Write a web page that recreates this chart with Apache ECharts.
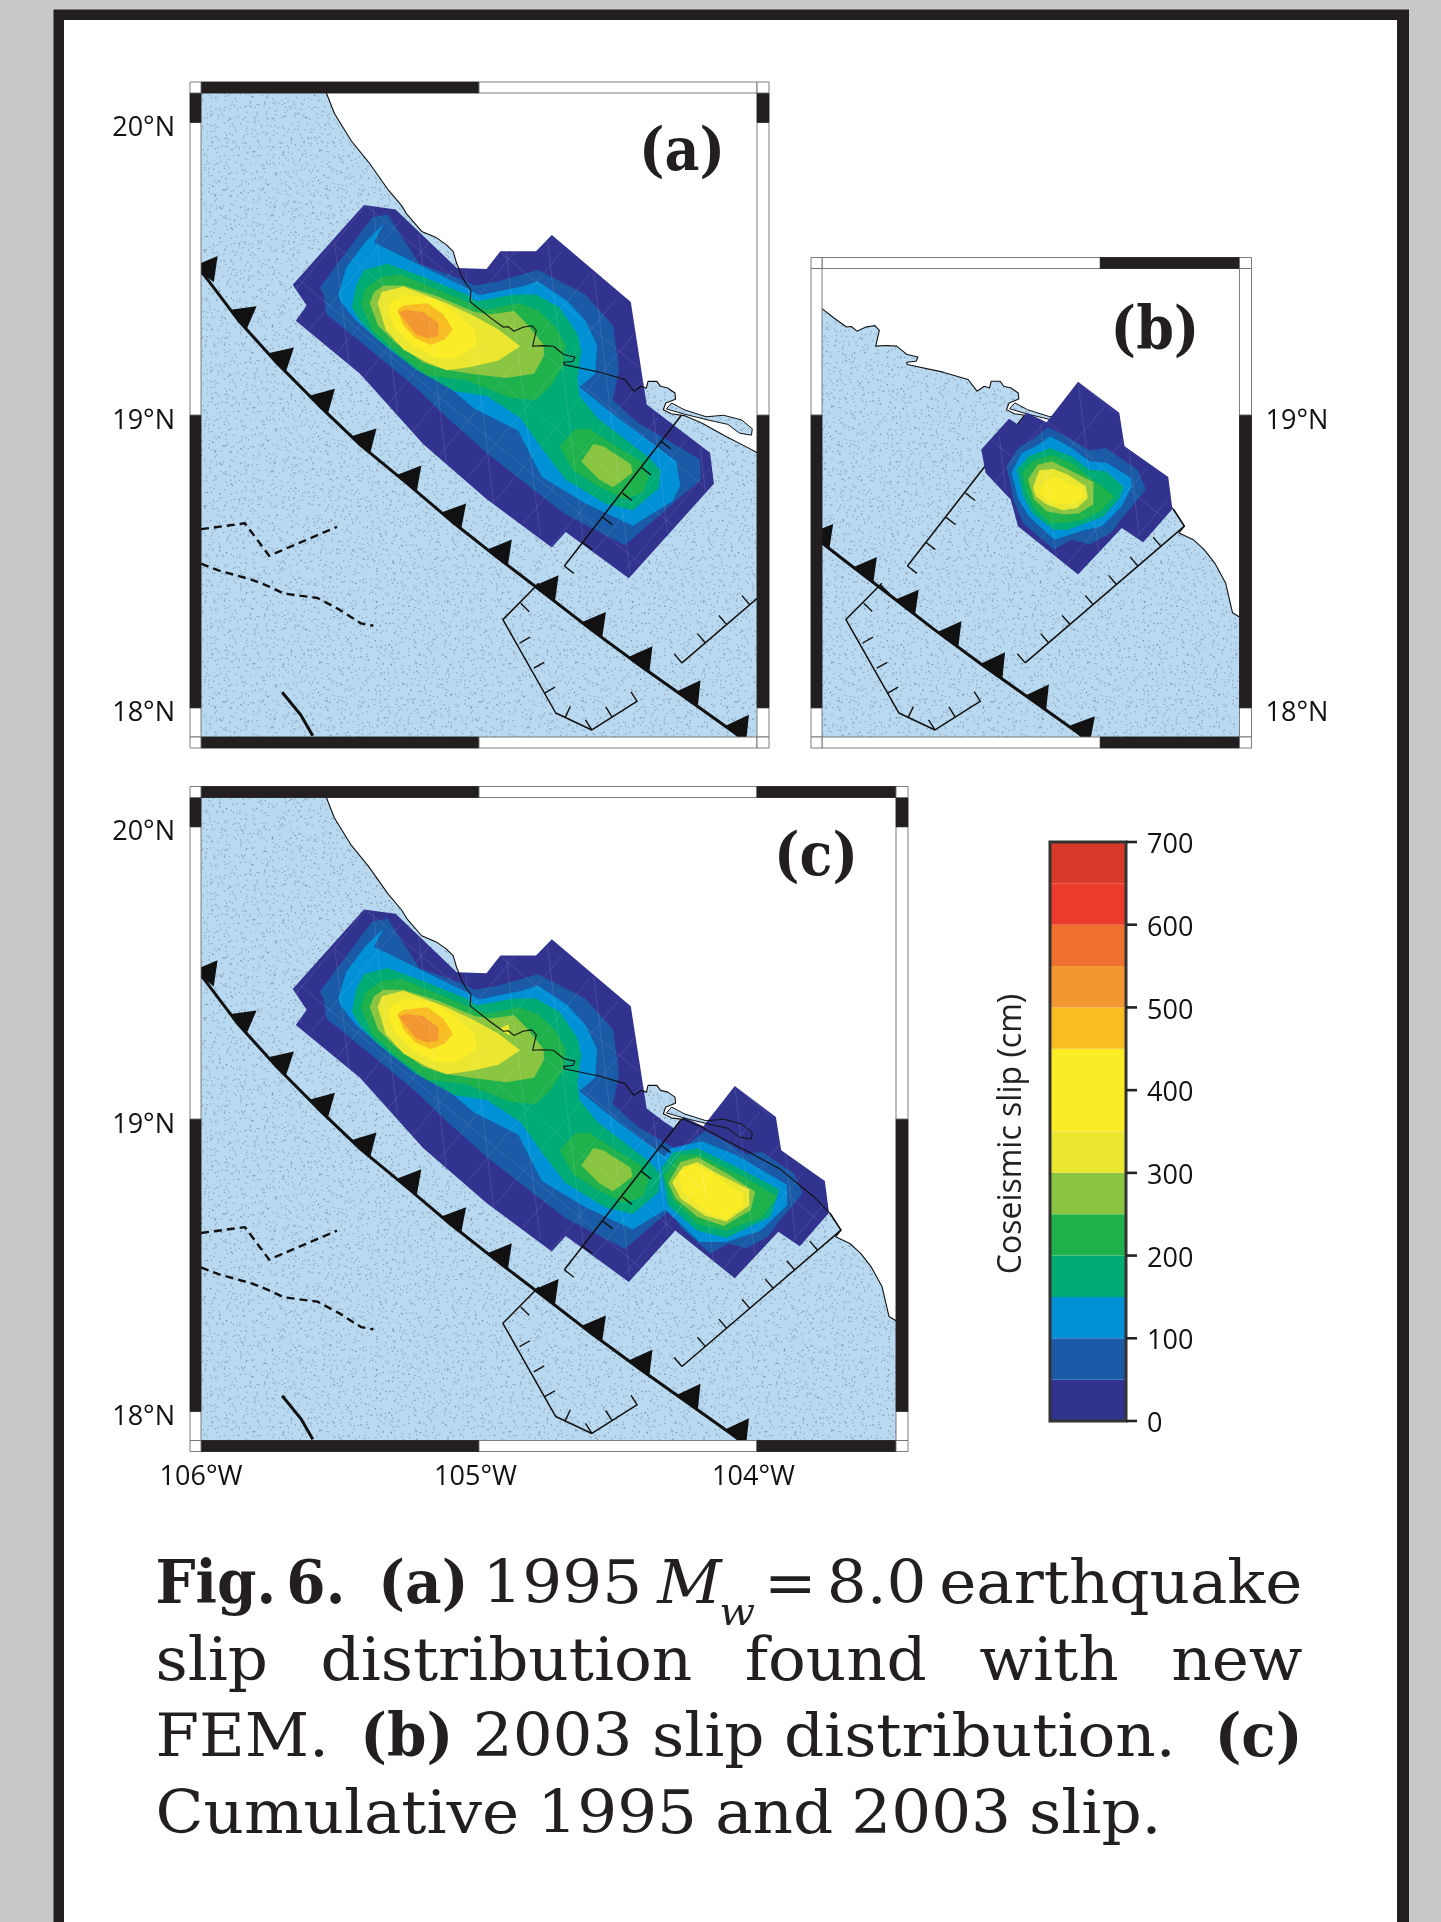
<!DOCTYPE html>
<html><head><meta charset="utf-8">
<style>html,body{margin:0;padding:0;background:#c7c8ca}#c{width:1441px;height:1922px}</style>
<script src="https://cdn.jsdelivr.net/npm/echarts@6/dist/echarts.min.js"></script>
</head><body><div id="c"></div>
<script>
// ---------- DATA (all in degrees longitude / latitude, or cm) ----------
const bandEdges=[0,50,100,150,200,250,300,350,450,500,550,600,650,700];
const bandColors=['#32338f','#1a5aa6','#0090d6','#00ab75','#1fb14c','#89c541','#ebe62f','#faec25','#f7bd22','#f39730','#ef6f2f','#ec3a2b','#d8392a'];
const colorbarTicks=[0,100,200,300,400,500,600,700];
const latTicksAC=[18,19,20], latTicksB=[18,19], lonTicksC=[-106,-105,-104];

const coast=[[-105.549,20.10],[-105.52,20.03],[-105.459,19.936],[-105.398,19.865],[-105.328,19.771],[-105.279,19.716],[-105.259,19.685],[-105.206,19.627],[-105.154,19.606],[-105.119,19.583],[-105.093,19.559],[-105.081,19.52],[-105.071,19.496],[-105.058,19.465],[-105.029,19.426],[-105.032,19.387],[-104.957,19.331],[-104.912,19.300],[-104.895,19.302],[-104.874,19.286],[-104.842,19.30],[-104.81,19.305],[-104.794,19.289],[-104.807,19.235],[-104.771,19.237],[-104.732,19.235],[-104.694,19.206],[-104.655,19.198],[-104.662,19.183],[-104.696,19.18],[-104.694,19.172],[-104.565,19.146],[-104.475,19.121],[-104.443,19.081],[-104.417,19.098],[-104.398,19.092],[-104.392,19.115],[-104.36,19.115],[-104.347,19.098],[-104.321,19.092],[-104.295,19.075],[-104.293,19.054],[-104.328,19.041],[-104.337,19.018],[-104.309,19.004],[-104.262,18.998],[-104.197,18.972],[-104.12,18.931],[-104.04,18.892],[-103.919,18.83],[-103.797,18.735],[-103.737,18.677],[-103.698,18.62],[-103.717,18.597],[-103.666,18.574],[-103.627,18.54],[-103.589,18.494],[-103.55,18.426],[-103.525,18.324],[-103.5,18.31]];
const seaCorners=[[-103.5,17.9],[-106,17.9],[-106,20.1]];
const lagoon=[[-104.307,19.041],[-104.262,19.018],[-104.183,18.994],[-104.12,18.999],[-104.055,18.983],[-104.017,18.953],[-104.02,18.931],[-104.063,18.938],[-104.105,18.968],[-104.176,18.983],[-104.262,19.003],[-104.326,19.021]];
const trench=[[-106.01,19.495],[-105.991,19.481],[-105.866,19.324],[-105.727,19.178],[-105.577,19.034],[-105.426,18.897],[-105.26,18.767],[-105.1,18.638],[-104.933,18.513],[-104.764,18.39],[-104.594,18.265],[-104.425,18.147],[-104.251,18.03],[-104.077,17.912],[-104.0,17.85]];
const teethAC=[[-105.991,19.481],[-105.866,19.324],[-105.727,19.178],[-105.577,19.034],[-105.426,18.897],[-105.26,18.767],[-105.1,18.638],[-104.933,18.513],[-104.764,18.39],[-104.594,18.265],[-104.425,18.147],[-104.251,18.03],[-104.077,17.912]];
const teethB=[[-105.011,18.566],[-104.853,18.452],[-104.703,18.341],[-104.548,18.232],[-104.39,18.125],[-104.233,18.015],[-104.073,17.911]];
const fault1=[[-104.693,18.484],[-104.272,18.999]];
const fault1Ticks=[[-104.693,18.484],[-104.627,18.565],[-104.554,18.65],[-104.484,18.733],[-104.415,18.82],[-104.345,18.91]];
const fault2=[[-104.27,18.153],[-103.698,18.62],[-103.737,18.677]];
const fault2Ticks=[[-104.27,18.153],[-104.186,18.222],[-104.109,18.284],[-104.026,18.352],[-103.942,18.421],[-103.865,18.484],[-103.782,18.551]];
const fault3=[[-104.432,18.022],[-104.594,17.924],[-104.724,17.982],[-104.914,18.301],[-104.785,18.425]];
const fault3Ticks=[[-104.43,18.02],[-104.521,17.968],[-104.594,17.924],[-104.69,17.967],[-104.764,18.05],[-104.803,18.135],[-104.854,18.221],[-104.85,18.357],[-104.79,18.42]];
const dashed1=[[-106,18.61],[-105.842,18.63],[-105.755,18.519],[-105.511,18.618]];
const dashed2=[[-106,18.492],[-105.937,18.469],[-105.816,18.437],[-105.755,18.414],[-105.702,18.39],[-105.581,18.375],[-105.502,18.335],[-105.424,18.288],[-105.38,18.28]];
const solidFault=[[-105.708,18.053],[-105.641,17.975],[-105.598,17.904]];

const slip1995_0=[[-105.67,19.445],[-105.62,19.374],[-105.659,19.322],[-105.428,19.141],[-105.201,18.901],[-104.973,18.713],[-104.738,18.547],[-104.688,18.6],[-104.461,18.442],[-104.155,18.765],[-104.169,18.871],[-104.397,19.036],[-104.454,19.386],[-104.738,19.615],[-104.795,19.559],[-104.923,19.559],[-104.973,19.499],[-105.08,19.502],[-105.3,19.702],[-105.414,19.717]];
const slip1995_1=[[-105.573,19.435],[-105.385,19.675],[-105.329,19.686],[-105.215,19.517],[-105.065,19.465],[-105.016,19.442],[-104.93,19.457],[-104.788,19.495],[-104.617,19.412],[-104.518,19.307],[-104.496,19.156],[-104.518,19.051],[-104.432,18.976],[-104.205,18.848],[-104.202,18.78],[-104.475,18.555],[-104.688,18.66],[-104.802,18.743],[-104.973,18.871],[-105.115,18.991],[-105.229,19.096],[-105.442,19.262],[-105.549,19.344],[-105.559,19.412]];
const slip1995_2=[[-105.506,19.412],[-105.478,19.502],[-105.414,19.585],[-105.343,19.653],[-105.378,19.589],[-105.286,19.547],[-105.208,19.51],[-105.03,19.427],[-105.001,19.409],[-104.845,19.439],[-104.788,19.457],[-104.681,19.389],[-104.617,19.322],[-104.575,19.239],[-104.582,19.141],[-104.639,19.096],[-104.532,19.014],[-104.29,18.841],[-104.276,18.758],[-104.304,18.705],[-104.447,18.622],[-104.617,18.698],[-104.774,18.788],[-104.859,18.946],[-105.016,19.021],[-105.129,19.111],[-105.314,19.217],[-105.442,19.322],[-105.499,19.389]];
const slip1995_3=[[-105.457,19.367],[-105.442,19.442],[-105.414,19.495],[-105.329,19.517],[-105.201,19.472],[-105.044,19.412],[-105.009,19.389],[-104.873,19.412],[-104.795,19.412],[-104.71,19.367],[-104.646,19.277],[-104.632,19.217],[-104.646,19.126],[-104.639,19.066],[-104.575,18.991],[-104.39,18.856],[-104.347,18.81],[-104.354,18.75],[-104.447,18.675],[-104.546,18.698],[-104.688,18.78],[-104.774,18.886],[-104.852,18.991],[-104.973,19.066],[-105.087,19.081],[-105.229,19.156],[-105.371,19.262],[-105.428,19.322]];
const slip1995_4a=[[-105.425,19.382],[-105.407,19.435],[-105.35,19.472],[-105.279,19.48],[-105.186,19.442],[-105.03,19.382],[-104.973,19.359],[-104.859,19.382],[-104.788,19.359],[-104.724,19.299],[-104.688,19.239],[-104.696,19.171],[-104.738,19.104],[-104.795,19.051],[-104.888,19.059],[-105.044,19.119],[-105.186,19.134],[-105.3,19.217],[-105.385,19.292]];
const slip1995_4b=[[-104.71,18.893],[-104.653,18.953],[-104.603,18.953],[-104.518,18.901],[-104.418,18.841],[-104.39,18.788],[-104.411,18.735],[-104.475,18.713],[-104.575,18.758],[-104.66,18.81]];
const slip1995_5a=[[-105.393,19.382],[-105.378,19.42],[-105.343,19.442],[-105.272,19.442],[-105.144,19.404],[-105.016,19.352],[-104.959,19.344],[-104.873,19.355],[-104.831,19.314],[-104.767,19.239],[-104.767,19.201],[-104.802,19.141],[-104.902,19.126],[-105.03,19.141],[-105.129,19.156],[-105.201,19.179],[-105.3,19.247],[-105.364,19.307]];
const slip1995_5b=[[-104.632,18.841],[-104.589,18.901],[-104.553,18.893],[-104.454,18.833],[-104.447,18.803],[-104.518,18.753],[-104.568,18.78]];
const slip1995_6=[[-105.364,19.382],[-105.35,19.42],[-105.272,19.439],[-105.115,19.382],[-105.016,19.337],[-104.93,19.292],[-104.852,19.235],[-104.93,19.186],[-105.03,19.164],[-105.115,19.153],[-105.186,19.179],[-105.272,19.224],[-105.336,19.292]];
const slip1995_7=[[-105.329,19.352],[-105.314,19.389],[-105.272,19.412],[-105.158,19.397],[-105.087,19.352],[-105.016,19.292],[-105.009,19.239],[-105.087,19.194],[-105.158,19.194],[-105.243,19.239],[-105.3,19.292]];
const slip1995_8=[[-105.293,19.359],[-105.272,19.374],[-105.186,19.382],[-105.129,19.344],[-105.094,19.292],[-105.122,19.259],[-105.172,19.239],[-105.229,19.262],[-105.272,19.307]];
const slip1995_9=[[-105.289,19.352],[-105.257,19.359],[-105.201,19.352],[-105.146,19.314],[-105.146,19.269],[-105.186,19.262],[-105.229,19.277],[-105.265,19.322]];

const slip2003_0=[[-104.428,18.882],[-104.328,18.987],[-104.296,18.967],[-104.264,19.007],[-104.193,18.975],[-104.08,19.113],[-103.932,19.007],[-103.913,18.893],[-103.756,18.788],[-103.741,18.679],[-103.846,18.565],[-103.923,18.614],[-104.08,18.455],[-104.296,18.62],[-104.322,18.711],[-104.412,18.802]];
const slip2003_1=[[-104.337,18.825],[-104.296,18.887],[-104.245,18.916],[-104.187,18.959],[-104.103,18.916],[-104.039,18.879],[-103.981,18.887],[-103.866,18.813],[-103.836,18.745],[-103.917,18.654],[-103.962,18.597],[-104.039,18.557],[-104.103,18.574],[-104.168,18.54],[-104.277,18.631],[-104.309,18.699]];
const slip2003_2=[[-104.319,18.802],[-104.283,18.87],[-104.232,18.893],[-104.18,18.927],[-104.103,18.887],[-104.039,18.842],[-103.975,18.836],[-103.891,18.785],[-103.887,18.756],[-103.923,18.688],[-103.994,18.62],[-104.052,18.608],[-104.11,18.591],[-104.165,18.574],[-104.257,18.654],[-104.296,18.716]];
const slip2003_3=[[-104.3,18.813],[-104.257,18.859],[-104.18,18.887],[-104.103,18.859],[-104.039,18.813],[-103.981,18.808],[-103.917,18.756],[-103.93,18.716],[-103.988,18.654],[-104.052,18.631],[-104.116,18.608],[-104.168,18.608],[-104.245,18.665],[-104.277,18.722]];
const slip2003_4=[[-104.281,18.802],[-104.245,18.842],[-104.174,18.864],[-104.103,18.836],[-104.02,18.773],[-103.949,18.722],[-104.0,18.671],[-104.065,18.642],[-104.123,18.631],[-104.18,18.631],[-104.238,18.682],[-104.264,18.734]];
const slip2003_5=[[-104.26,18.779],[-104.225,18.83],[-104.174,18.842],[-104.103,18.808],[-104.024,18.77],[-104.026,18.694],[-104.078,18.663],[-104.129,18.66],[-104.193,18.671],[-104.238,18.711]];
const slip2003_6=[[-104.242,18.751],[-104.219,18.811],[-104.168,18.815],[-104.116,18.796],[-104.052,18.756],[-104.045,18.716],[-104.084,18.682],[-104.135,18.674],[-104.193,18.694],[-104.232,18.722]];
const slip2003_7=[[-104.221,18.739],[-104.2,18.773],[-104.165,18.788],[-104.123,18.773],[-104.062,18.745],[-104.065,18.716],[-104.103,18.694],[-104.155,18.694],[-104.193,18.711]];

// cumulative lobe (panel c) contours
const slipCum_2=[[-104.354,18.845],[-104.31,18.9],[-104.197,18.924],[-104.075,18.877],[-103.892,18.775],[-103.892,18.704],[-103.988,18.618],[-104.11,18.579],[-104.206,18.579],[-104.328,18.688]];
const slipCum_3=[[-104.345,18.83],[-104.301,18.885],[-104.214,18.9],[-104.075,18.837],[-103.919,18.759],[-103.953,18.665],[-104.11,18.594],[-104.214,18.618],[-104.319,18.704]];
const slipCum_4=[[-104.336,18.806],[-104.275,18.877],[-104.214,18.88],[-104.04,18.798],[-103.927,18.735],[-103.98,18.665],[-104.11,18.618],[-104.214,18.641],[-104.301,18.72]];
const slipCum_5=[[-104.319,18.783],[-104.275,18.853],[-104.214,18.869],[-104.11,18.814],[-104.006,18.751],[-104.023,18.688],[-104.119,18.634],[-104.214,18.665],[-104.293,18.728]];
const slipCum_6=[[-104.305,18.783],[-104.267,18.837],[-104.214,18.853],[-104.145,18.814],[-104.028,18.759],[-104.028,18.704],[-104.11,18.649],[-104.188,18.67],[-104.275,18.728]];
const slipCum_7=[[-104.284,18.814],[-104.232,18.845],[-104.162,18.814],[-104.049,18.743],[-104.049,18.704],[-104.11,18.657],[-104.18,18.681],[-104.267,18.751]];
const slipCumSpot=[[-104.928,19.308],[-104.893,19.324],[-104.89,19.285]];

const contours1995=[[0,slip1995_0],[1,slip1995_1],[2,slip1995_2],[3,slip1995_3],[4,slip1995_4a],[4,slip1995_4b],[5,slip1995_5a],[5,slip1995_5b],[6,slip1995_6],[7,slip1995_7],[8,slip1995_8],[9,slip1995_9]];
const contours2003=[[0,slip2003_0],[1,slip2003_1],[2,slip2003_2],[3,slip2003_3],[4,slip2003_4],[5,slip2003_5],[6,slip2003_6],[7,slip2003_7]];
const contoursCum=[[0,slip2003_0],[1,slip2003_1],[2,slipCum_2],[3,slipCum_3],[4,slipCum_4],[5,slipCum_5],[6,slipCum_6],[7,slipCum_7],[6,slipCumSpot]];

const captionLines=[
 [[['Fig.','b']],[['6.','b']],[['(a)','b']],[['1995','r']],[['M','i'],['w','s']],[['=','r']],[['8.0','r']],[['earthquake','r']]],
 [[['slip','r']],[['distribution','r']],[['found','r']],[['with','r']],[['new','r']]],
 [[['FEM.','r']],[['(b)','b']],[['2003','r']],[['slip','r']],[['distribution.','r']],[['(c)','b']]],
 [[['Cumulative','r']],[['1995','r']],[['and','r']],[['2003','r']],[['slip.','r']]]
];
const captionGapWeights=[[.8,2.6,1.1,1.2,.7,.8,1],[1,1,1,1],[1.6,1,1,1,2],[1,1,1,1]];

// ---------- STYLE / LAYOUT ----------
const INK='#231f20';
const SANS='"Open Sans"';
const grids=[
 {left:201,top:93,width:556,height:644},
 {left:822,top:268.5,width:417.5,height:468.5},
 {left:201,top:797.5,width:695,height:643},
 {left:1050,top:842,width:76,height:579}
];
const ranges=[
 {lon:[-106,-104],lat:[17.9,20.1]},
 {lon:[-105,-103.5],lat:[17.9,19.5]},
 {lon:[-106,-103.5],lat:[17.9,20.1]}
];

// sea stipple tile (deterministic)
function seaTile(){
 const c=document.createElement('canvas');c.width=c.height=256;
 const g=c.getContext('2d');g.fillStyle='#b9d9f0';g.fillRect(0,0,256,256);
 g.fillStyle='rgba(70,85,110,.42)';
 for(let i=1;i<2700;i++){
  const j=Math.sin(i*12.9898)*43758.5453,k=Math.sin(i*78.233)*12543.123;
  const x=((i*0.7548776662+(j-Math.floor(j))*0.04)%1)*256,y=((i*0.5698402910+(k-Math.floor(k))*0.04)%1)*256;
  g.fillRect(x,y,1.2,1.2);
 }
 return c;
}
const seaFill={image:seaTile(),repeat:'repeat'};

function inside(p,poly){let r=false;for(let i=0,j=poly.length-1;i<poly.length;j=i++){const a=poly[i],b=poly[j];
 if((a[1]>p[1])!==(b[1]>p[1])&&p[0]<(b[0]-a[0])*(p[1]-a[1])/(b[1]-a[1])+a[0])r=!r;}return r;}
function meshSegments(poly){
 const out=[],dirs=[[0.64,-0.77],[0.77,0.64],[0.12,1]],anchor=[-104.08,19.113],ox=anchor[0]*278,oy=-anchor[1]*292.8,sp=[36,50,42];
 dirs.forEach((d,di)=>{for(let k=-40;k<=40;k++){
  const nx=-d[1],ny=d[0];let cur=null;
  for(let s=-1000;s<=1000;s+=6){
   const X=ox+nx*k*sp[di]+d[0]*s,Y=oy+ny*k*sp[di]+d[1]*s,p=[X/278,-Y/292.8];
   if(inside(p,poly)){if(!cur){cur=[p,p];out.push(cur);}else cur[1]=p;}else cur=null;
  }}});
 return out;
}
const mesh1995=meshSegments(slip1995_0),mesh2003=meshSegments(slip2003_0);

// ---------- RENDER HELPERS ----------
const pts=(api,l)=>l.map(p=>api.coord(p));
function layer(i,z,items,render,clip){
 return {type:'custom',coordinateSystem:'cartesian2d',xAxisIndex:i,yAxisIndex:i,clip:clip!==false,silent:true,z,animation:false,
  data:items.map((_,k)=>[k]),renderItem:(p,api)=>render(items[p.dataIndex],api)};
}
const polyFill=(fill)=>(l,api)=>({type:'polygon',shape:{points:pts(api,l)},style:{fill}});
const line=(stroke,lineWidth,lineDash)=>(l,api)=>({type:'polyline',shape:{points:pts(api,l)},style:{fill:null,stroke,lineWidth,lineDash,lineJoin:'round'}});
function nearestTangent(P,path){let best=null,bd=1e18;
 for(let i=0;i<path.length-1;i++){const a=path[i],b=path[i+1],dx=b[0]-a[0],dy=b[1]-a[1],L=dx*dx+dy*dy;
  let t=((P[0]-a[0])*dx+(P[1]-a[1])*dy)/L;t=Math.max(0,Math.min(1,t));
  const d=(a[0]+t*dx-P[0])**2+(a[1]+t*dy-P[1])**2;
  if(d<bd-1e-6){bd=d;const l=Math.sqrt(L);best=[dx/l,dy/l];}}
 return best;}
function hachures(i,path,ticks,side){
 return layer(i,9,ticks,(t,api)=>{const P=api.coord(t),T=nearestTangent(P,pts(api,path));
  return {type:'line',shape:{x1:P[0],y1:P[1],x2:P[0]-side*T[1]*12,y2:P[1]+side*T[0]*12},style:{stroke:'#111',lineWidth:1.4}};},true);
}
function teethLayer(i,teeth){
 return layer(i,9,teeth,(t,api)=>{const P=api.coord(t);let T=nearestTangent(P,pts(api,trench));
  const n=[Math.abs(T[1]),-Math.abs(T[0])];
  return {type:'polygon',shape:{points:[[P[0]-T[0]*13,P[1]-T[1]*13],[P[0]+T[0]*13,P[1]+T[1]*13],[P[0]+n[0]*23,P[1]+n[1]*23]]},style:{fill:'#111'}};},true);
}
function frameLayer(i){
 const r=ranges[i],T=11,TR=12,items=[];
 const cuts=(a,b)=>{const c=[a];for(let v=Math.ceil(a+1e-6);v<b;v++)c.push(v);c.push(b);return c;};
 const black=v=>((Math.floor(v)%2)+2)%2===0;
 const lonC=cuts(r.lon[0],r.lon[1]),latC=cuts(r.lat[0],r.lat[1]);
 for(let k=0;k<lonC.length-1;k++){items.push({s:'t',a:lonC[k],b:lonC[k+1]});items.push({s:'b',a:lonC[k],b:lonC[k+1]});}
 for(let k=0;k<latC.length-1;k++){items.push({s:'l',a:latC[k],b:latC[k+1]});items.push({s:'r',a:latC[k],b:latC[k+1]});}
 items.push({s:'c',x:0,y:1},{s:'c',x:1,y:1},{s:'c',x:0,y:0},{s:'c',x:1,y:0});
 return layer(i,20,items,(m,api)=>{
  const tl=api.coord([r.lon[0],r.lat[1]]),br=api.coord([r.lon[1],r.lat[0]]);
  let x,y,w,h;
  if(m.s==='t'||m.s==='b'){const a=api.coord([m.a,r.lat[0]])[0],b=api.coord([m.b,r.lat[0]])[0];x=a;w=b-a;h=T;y=m.s==='t'?tl[1]-T:br[1];}
  else if(m.s==='l'||m.s==='r'){const a=api.coord([r.lon[0],m.b])[1],b=api.coord([r.lon[0],m.a])[1];y=a;h=b-a;w=m.s==='r'?TR:T;x=m.s==='l'?tl[0]-T:br[0];}
  else{h=T;w=m.x?TR:T;x=m.x?br[0]:tl[0]-T;y=m.y?tl[1]-T:br[1];}
  const blk=m.s==='c'?false:black(m.a+1e-6);
  return {type:'rect',shape:{x,y,width:w,height:h},style:{fill:blk?INK:'#fff',stroke:blk?INK:'#6d6e70',lineWidth:0.9}};
 },false);
}
function panelSeries(i,contours,meshSegs,teeth,linesOnTop){
 const s=[];
 const sea=coast.concat(seaCorners);
 s.push(layer(i,1,[sea],polyFill(seaFill)));
 s.push(layer(i,2,[lagoon],polyFill(seaFill)));
 const lz=linesOnTop?9:3;
 s.push(layer(i,lz,[coast],line('#111',1.1)));
 s.push(layer(i,lz,[lagoon],(l,api)=>({type:'polygon',shape:{points:pts(api,l)},style:{fill:null,stroke:'#111',lineWidth:1}})));
 s.push(layer(i,lz,[fault1,fault2,fault3],line('#111',1.5)));
 const h1=hachures(i,fault1,fault1Ticks,1),h2=hachures(i,fault2,fault2Ticks,-1),h3=hachures(i,fault3,fault3Ticks,1);
 [h1,h2,h3].forEach(h=>{h.z=lz;s.push(h);});
 s.push(layer(i,5,contours.slice().sort((a,b)=>a[0]-b[0]),(c,api)=>({type:'polygon',shape:{points:pts(api,c[1])},style:{fill:bandColors[c[0]]}})));
 s.push(layer(i,6,meshSegs,line('rgba(255,255,255,.12)',0.9)));
 s.push(layer(i,9,[trench],line('#111',3)));
 s.push(teethLayer(i,teeth));
 s.push(layer(i,9,[dashed1,dashed2],line('#111',2.4,[8,5])));
 s.push(layer(i,9,[solidFault],line('#111',3)));
 s.push(frameLayer(i));
 return s;
}

const latFmt=v=>Math.round(v)+'°N';
const lonFmt=v=>v===lonTicksC[0]?Math.round(-v)+'°W':'{s|'+Math.round(-v)+'°W}';
const labelStyle={fontFamily:SANS,fontSize:27,color:'#111'};
function axesFor(i,yPos,yVals,xVals){
 const r=ranges[i];
 const x={type:'value',gridIndex:i,min:r.lon[0],max:r.lon[1],scale:true,axisLine:{show:false},axisTick:{show:false},splitLine:{show:false},
  axisLabel:xVals?Object.assign({customValues:xVals,formatter:lonFmt,margin:23,showMinLabel:true,rich:{s:Object.assign({padding:[0,7,0,0]},labelStyle)}},labelStyle):{show:false}};
 const y={type:'value',gridIndex:i,position:yPos,min:r.lat[0],max:r.lat[1],scale:true,axisLine:{show:false},axisTick:{show:false},splitLine:{show:false},
  axisLabel:Object.assign({customValues:yVals,formatter:latFmt,margin:26,verticalAlign:'top',lineHeight:12},labelStyle)};
 return [x,y];
}
const A=axesFor(0,'left',latTicksAC),B=axesFor(1,'right',latTicksB),C=axesFor(2,'left',latTicksAC,lonTicksC);
const xAxes=[A[0],B[0],C[0],{type:'value',gridIndex:3,min:0,max:1,show:false}];
const yAxes=[A[1],B[1],C[1],{type:'value',gridIndex:3,position:'right',min:0,max:700,interval:100,splitLine:{show:false},
 axisLine:{show:false},axisTick:{show:false},
 axisLabel:Object.assign({margin:21,verticalAlign:'top',lineHeight:7},labelStyle)}];

const barItems=bandColors.map((c,k)=>({c,a:bandEdges[k],b:bandEdges[k+1]}));
const barSeries=layer(3,5,barItems,(m,api)=>{const p=api.coord([0,m.b]),q=api.coord([1,m.a]);
 return {type:'rect',shape:{x:p[0],y:p[1],width:q[0]-p[0],height:q[1]-p[1]},style:{fill:m.c}};},false);
const barFrame=layer(3,6,[1],(m,api)=>{const p=api.coord([0,700]),q=api.coord([1,0]);
 return {type:'rect',shape:{x:p[0],y:p[1],width:q[0]-p[0],height:q[1]-p[1]},style:{fill:null,stroke:'#333',lineWidth:3}};},false);
const barTicks=layer(3,6,colorbarTicks,(v,api)=>{const p=api.coord([1,v]);
 return {type:'line',shape:{x1:p[0],y1:p[1],x2:p[0]+11,y2:p[1]},style:{stroke:'#222',lineWidth:2.6}};},false);

// ---------- CAPTION ----------
const CF='"DejaVu Serif Condensed","DejaVu Serif"',CS=60;
const fontOf=(k,sz)=>(k==='b'?'bold ':k==='i'||k==='s'?'italic ':'')+(k==='s'?Math.round(sz*.66):sz)+'px '+CF;
const mctx=document.createElement('canvas').getContext('2d');
const SUB_OVERLAP=2;
const wordW=w=>{let t=0;w.forEach(([s,k])=>{mctx.font=fontOf(k,CS);t+=mctx.measureText(s).width*(k==='b'?.9:1);if(k==='s')t-=SUB_OVERLAP;});return t;};
const refW=(()=>{const l=captionLines[3];return l.reduce((a,w)=>a+wordW(w),0)+(l.length-1)*CS*0.26;})();
const capScale=1006/refW;
const capLeft=155.5,capRight=1302.5,capBase=[1605,1682,1758,1835];
const capEls=[];
captionLines.forEach((l,li)=>{
 const tot=l.reduce((a,w)=>a+wordW(w)*capScale,0);
 const W=captionGapWeights[li],sumW=W.reduce((a,b)=>a+b,0);
 const gapUnit=li===3?CS*0.26*capScale:(capRight-capLeft-tot)/sumW;
 let x=capLeft;
 l.forEach((w,wi)=>{
  let xx=x;
  w.forEach(([s,k])=>{
   mctx.font=fontOf(k,CS);
   const f=k==='b'?.9:1;
   const wd=mctx.measureText(s).width*capScale*f;
   if(k==='s')xx-=SUB_OVERLAP*capScale;
   capEls.push({type:'text',x:xx,y:capBase[li]-CS*0.3+(k==='s'?28:0),scaleX:capScale*f,silent:true,z:30,
    style:{text:s,font:fontOf(k,CS),fill:INK,align:'left',verticalAlign:'middle'}});
   xx+=wd;
  });
  x+=wordW(w)*capScale+(W[wi]||0)*gapUnit;
 });
});

const panelLabels=[['(a)',682,154],['(b)',1155,333],['(c)',816,859]].map(([t,x,y])=>({type:'text',x,y,silent:true,z:30,
 style:{text:t,font:'bold 60px "DejaVu Serif Condensed","DejaVu Serif"',fill:INK,align:'center',verticalAlign:'middle'}}));

const option={
 backgroundColor:'#c7c8ca',animation:false,
 grid:grids.map(g=>Object.assign({containLabel:false},g)),
 xAxis:xAxes,yAxis:yAxes,
 graphic:[
  {type:'rect',z:-2,silent:true,shape:{x:53.5,y:9.5,width:1355.5,height:1920},style:{fill:INK}},
  {type:'rect',z:-1,silent:true,shape:{x:64,y:20,width:1333,height:1910},style:{fill:'#fff'}},
  {type:'text',silent:true,z:30,x:1012,y:1134,rotation:Math.PI/2,style:{text:'Coseismic slip (cm)',font:'32px '+SANS,fill:'#222',align:'center',verticalAlign:'middle'}}
 ].concat(panelLabels,capEls),
 series:[
  ...panelSeries(0,contours1995,mesh1995,teethAC,true),
  ...panelSeries(1,contours2003,mesh2003,teethB,false),
  ...panelSeries(2,contours1995.concat(contoursCum),mesh1995.concat(mesh2003),teethAC,true),
  barSeries,barFrame,barTicks
 ]
};
const chart=echarts.init(document.getElementById('c'),null,{renderer:'canvas',width:1441,height:1922});
chart.setOption(option);
</script></body></html>
